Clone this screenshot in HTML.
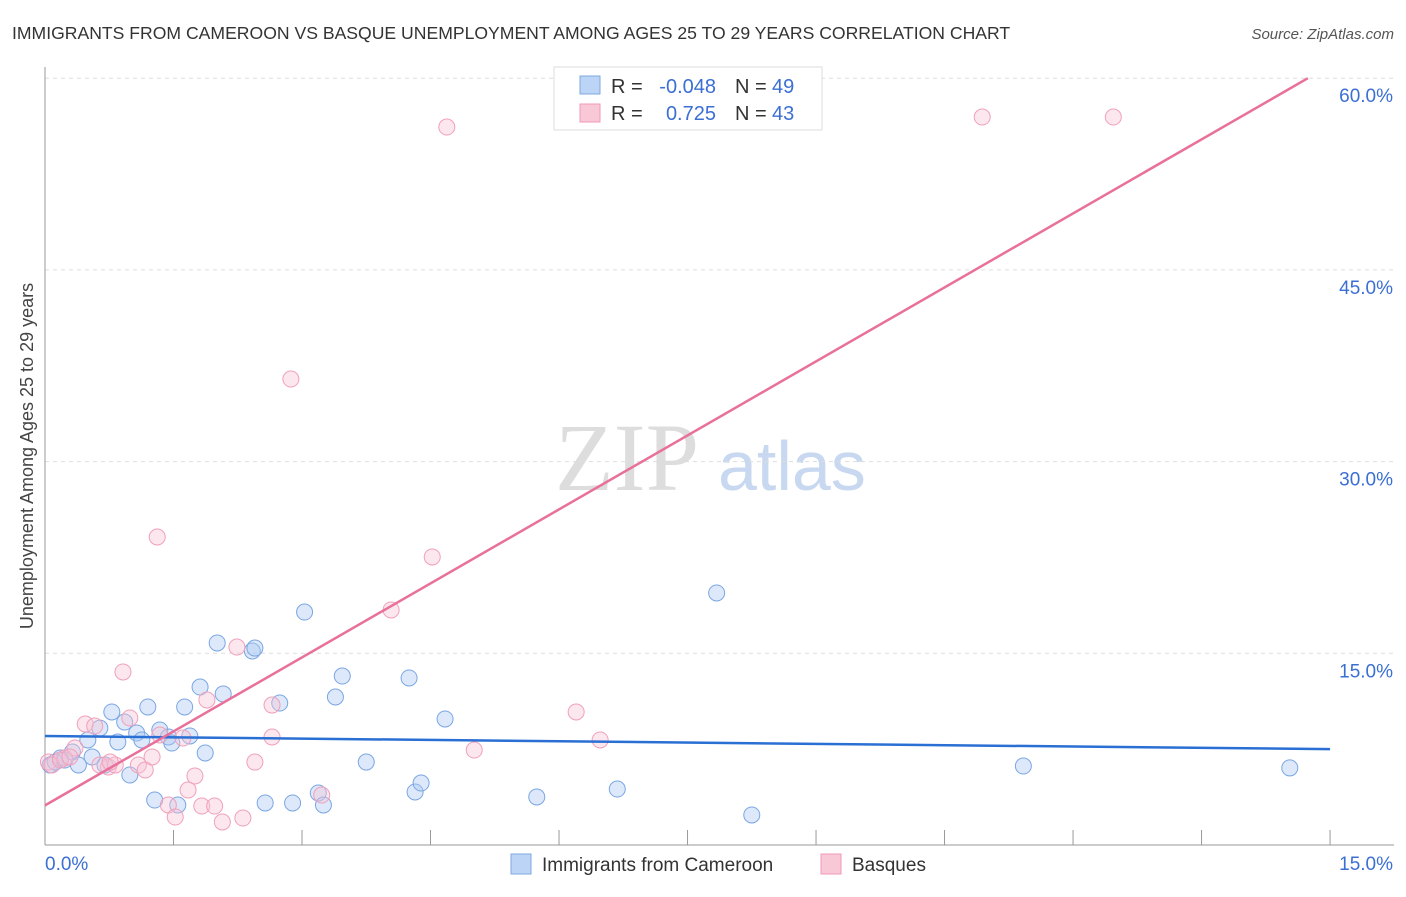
<!DOCTYPE html>
<html><head><meta charset="utf-8"><style>
body{margin:0;background:#fff;font-family:"Liberation Sans",sans-serif;}
svg text{font-family:"Liberation Sans",sans-serif;}
</style></head><body>
<svg id="c" width="1406" height="892" xmlns="http://www.w3.org/2000/svg">
<text x="12" y="39" font-size="17.6" fill="#333">IMMIGRANTS FROM CAMEROON VS BASQUE UNEMPLOYMENT AMONG AGES 25 TO 29 YEARS CORRELATION CHART</text>
<text x="1394" y="39" font-size="15" fill="#555" font-style="italic" text-anchor="end">Source: ZipAtlas.com</text>
<text transform="translate(33,456) rotate(-90)" font-size="18" fill="#444" text-anchor="middle">Unemployment Among Ages 25 to 29 years</text>
<g>
<text x="555" y="490" font-size="96" fill="#ddd" style="font-family:'Liberation Serif',serif">ZIP</text>
<text x="718" y="490" font-size="70" fill="#c8d8f0">atlas</text>
</g>
<g id="grid"></g><g id="axes"></g><g id="pts"></g><g id="lines"></g>
<g>
<rect x="554" y="67" width="268" height="63" fill="#fff" stroke="#ddd"/>
<rect x="580" y="76" width="20" height="18" fill="#bcd4f5" stroke="#7fa8e0"/>
<rect x="580" y="104" width="20" height="18" fill="#f9c8d6" stroke="#f09ab5"/>
<text x="611" y="93" font-size="20" fill="#333">R =</text>
<text x="716" y="93" font-size="20" fill="#3b6fd4" text-anchor="end">-0.048</text>
<text x="735" y="93" font-size="20" fill="#333">N =</text>
<text x="772" y="93" font-size="20" fill="#3b6fd4">49</text>
<text x="611" y="120" font-size="20" fill="#333">R =</text>
<text x="716" y="120" font-size="20" fill="#3b6fd4" text-anchor="end">0.725</text>
<text x="735" y="120" font-size="20" fill="#333">N =</text>
<text x="772" y="120" font-size="20" fill="#3b6fd4">43</text>
</g>
<g>
<rect x="511" y="854" width="20" height="20" fill="#bcd4f5" stroke="#7fa8e0"/>
<text x="542" y="871" font-size="19" fill="#333">Immigrants from Cameroon</text>
<rect x="821" y="854" width="20" height="20" fill="#f9c8d6" stroke="#f09ab5"/>
<text x="852" y="871" font-size="19" fill="#333">Basques</text>
</g>
</svg>
<script>
const blueX=[0.06,0.12,0.18,0.23,0.32,0.39,0.50,0.55,0.64,0.70,0.78,0.85,0.93,0.99,1.07,1.13,1.20,1.28,1.34,1.44,1.48,1.55,1.63,1.69,1.81,1.87,2.01,2.08,2.42,2.45,2.57,2.74,2.89,3.03,3.19,3.25,3.39,3.47,3.75,4.25,4.32,4.39,4.67,5.74,6.68,7.84,8.25,11.42,14.53];
const blueY=[6.26,6.49,6.81,6.65,7.28,6.26,8.22,6.89,9.15,6.26,10.41,8.06,9.62,5.48,8.76,8.22,10.80,3.52,9.00,8.45,7.98,3.13,10.80,8.53,12.36,7.20,15.81,11.82,15.18,15.41,3.29,11.11,3.29,18.23,4.07,3.13,11.58,13.22,6.49,13.07,4.15,4.85,9.86,3.76,4.38,19.72,2.35,6.18,6.03];
const pinkX=[0.04,0.08,0.23,0.35,0.47,0.58,0.74,0.82,0.91,0.99,1.09,1.17,1.25,1.31,1.44,1.52,1.61,1.67,1.75,1.83,1.89,1.98,2.07,2.24,2.31,2.45,2.65,2.65,2.87,3.23,4.04,4.52,4.69,5.01,6.20,6.48,10.94,12.47,0.18,0.64,0.76,1.34,0.29];
const pinkY=[6.49,6.26,6.81,7.59,9.47,9.31,6.10,6.26,13.54,9.94,6.26,5.87,6.89,24.1,3.13,2.19,8.37,4.30,5.40,3.05,11.35,3.05,1.80,15.49,2.11,6.49,10.95,8.45,36.46,3.91,18.39,22.54,56.18,7.43,10.41,8.22,56.96,56.96,6.65,6.26,6.49,8.61,6.89];
const blueLine=[8.53,7.5];
const pinkLine=[3.1,61.0];
const yTicks=[15,30,45,60];
const yTickLabels=["15.0%","30.0%","45.0%","60.0%"];
const xTicks=[0,1.5,3,4.5,6,7.5,9,10.5,12,13.5,15];
const NS="http://www.w3.org/2000/svg";
const X=v=>45+v*85.67, Y=v=>845-v*12.78;
function mk(p,t,a){const e=document.createElementNS(NS,t);for(const k in a)e.setAttribute(k,a[k]);document.getElementById(p).appendChild(e);return e;}
yTicks.forEach((t,i)=>{
 const g=mk('grid','line',{x1:45,x2:1394,y1:Y(t),y2:Y(t),stroke:'#ddd','stroke-dasharray':'4,4'});
 
 
 const l=mk('grid','text',{x:1393,y:Y(t)+24,'font-size':19,fill:'#3b6fd4','text-anchor':'end'});
 l.textContent=yTickLabels[i];
 
 
});
const ax=mk('axes','line',{x1:45,x2:45,y1:67,y2:845,stroke:'#999'});


const bx=mk('axes','line',{x1:45,x2:1394,y1:845,y2:845,stroke:'#999'});


xTicks.forEach(t=>{
 const k=mk('axes','line',{x1:X(t),x2:X(t),y1:830,y2:845,stroke:'#999'});
 
 
});
[[0,"0.0%","start",45],[15,"15.0%","end",1393]].forEach(d=>{
 const l=mk('axes','text',{x:d[3],y:870,'font-size':19,fill:'#3b6fd4','text-anchor':d[2]});
 l.textContent=d[1];
 
 
});
blueX.forEach((v,i)=>{
 const c=mk('pts','circle',{cx:X(v),cy:Y(blueY[i]),r:8,fill:'rgba(170,200,242,0.4)',stroke:'#7aa6e3','stroke-width':1});
 
 
});
pinkX.forEach((v,i)=>{
 const c=mk('pts','circle',{cx:X(v),cy:Y(pinkY[i]),r:8,fill:'rgba(248,195,213,0.4)',stroke:'#f0a0bb','stroke-width':1});
 
 
});
const bl=mk('lines','line',{x1:X(0),y1:Y(blueLine[0]),x2:X(15),y2:Y(blueLine[1]),stroke:'#2a6fd4','stroke-width':2.5});


const xe=(60-pinkLine[0])/((pinkLine[1]-pinkLine[0])/15);
const pl=mk('lines','line',{x1:X(0),y1:Y(pinkLine[0]),x2:X(xe),y2:Y(60),stroke:'#e8709a','stroke-width':2.5});


</script>
</body></html>
